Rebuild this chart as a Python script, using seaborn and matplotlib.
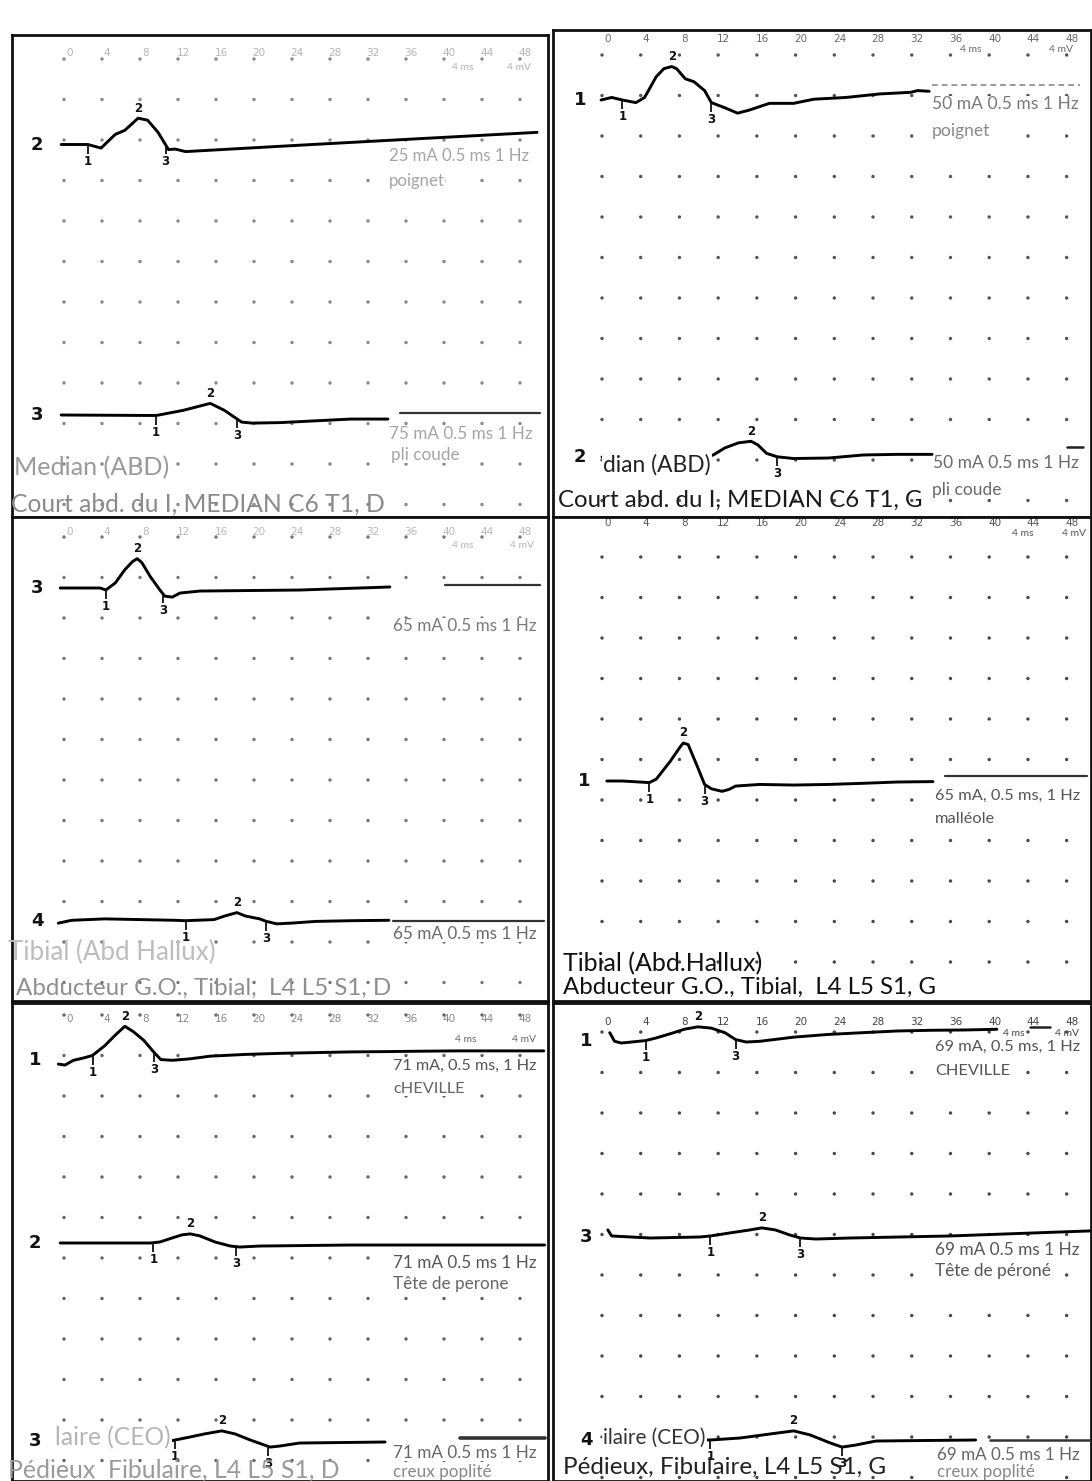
import numpy as np
import pandas as pd
import matplotlib
matplotlib.use("Agg")
import matplotlib.pyplot as plt
import seaborn as sns

# ---------------------------------------------------------------- data
MS_TICKS = [0, 4, 8, 12, 16, 20, 24, 28, 32, 36, 40, 44, 48]

# Panel A : Court abd. du I, MEDIAN C6 T1, D
A2_MS = [-0.3, 2.5, 3.9, 5.4, 6.4, 7.8, 8.8, 9.9, 11.0, 11.7, 12.8, 24.8, 37.5, 49.8]
A2_MV = [0.0, 0.0, -0.35, 1.0, 1.4, 2.6, 2.4, 1.2, -0.5, -0.45, -0.7, -0.07, 0.58, 1.2]
A2_MARKS = [2.5, 7.8, 10.7]
A3_MS = [-0.3, 9.7, 12.5, 15.4, 16.9, 18.7, 19.8, 22.8, 30.2, 34.1]
A3_MV = [0.0, -0.05, 0.45, 1.15, 0.45, -0.7, -0.8, -0.75, -0.4, -0.4]
A3_MARKS = [9.7, 15.4, 18.2]

# Panel B : Court abd. du I, MEDIAN C6 T1, G
B1_MS = [-0.1, 1.0, 2.1, 3.5, 4.4, 5.6, 6.4, 7.2, 7.7, 8.6, 9.5, 10.6, 11.3, 12.7,
         14.0, 15.2, 17.3, 19.8, 21.9, 25.2, 28.7, 31.9, 32.6, 33.8]
B1_MV = [0.0, 0.25, 0.0, -0.26, 0.25, 2.3, 3.1, 3.3, 3.1, 2.1, 1.8, 0.93, -0.26, -0.77,
         -1.3, -1.0, -0.33, -0.33, 0.08, 0.25, 0.6, 0.76, 0.93, 0.86]
B1_MARKS = [2.1, 7.2, 11.3]
B2_MS = [0.0, 10.7, 11.5, 12.7, 14.1, 15.4, 16.1, 17.0, 18.1, 19.8, 23.4, 27.0, 30.5, 34.1]
B2_MV = [0.0, 0.0, 0.2, 0.9, 1.4, 1.55, 1.2, 0.36, 0.02, -0.15, -0.1, 0.2, 0.26, 0.26]
B2_MARKS = [10.7, 15.4, 18.1]

# Panel C : Abducteur G.O., Tibial, D
C3_MS = [-0.4, 3.8, 4.4, 5.4, 6.4, 7.2, 7.7, 8.2, 9.1, 10.1, 10.6, 11.4, 12.2, 14.3, 24.8, 34.3]
C3_MV = [0.0, 0.0, -0.2, 0.5, 1.8, 2.6, 2.9, 2.5, 1.1, -0.2, -0.8, -0.9, -0.5, -0.3, -0.2, 0.1]
C3_MARKS = [4.4, 7.7, 10.4]
C4_MS = [-0.6, 0.8, 4.3, 8.0, 11.7, 12.8, 15.8, 16.9, 18.2, 19.1, 20.6, 21.3, 22.4,
         23.9, 26.5, 30.2, 34.2]
C4_MV = [-0.26, 0.02, 0.16, 0.09, 0.02, -0.02, 0.09, 0.44, 0.78, 0.44, 0.16, -0.09, -0.33,
         -0.26, -0.09, -0.02, 0.02]
C4_MARKS = [12.8, 18.2, 21.3]

# Panel D : Abducteur G.O., Tibial, G
D1_MS = [0.5, 2.1, 3.9, 4.9, 5.6, 7.0, 8.1, 8.4, 8.9, 9.8, 10.6, 11.3, 12.4, 13.1, 13.8,
         16.3, 19.8, 23.4, 26.9, 30.5, 34.2]
D1_MV = [0.0, 0.0, -0.1, -0.16, 0.18, 1.88, 3.4, 3.75, 3.6, 1.55, -0.34, -0.77, -1.02,
         -0.84, -0.5, -0.34, -0.4, -0.34, -0.23, -0.1, -0.06]
D1_MARKS = [4.9, 8.4, 10.6]

# Panel E : Pédieux, Fibulaire, D
E1_MS = [-0.6, 0.1, 1.0, 2.1, 3.0, 4.3, 5.4, 6.4, 7.3, 8.4, 9.5, 10.2, 11.4, 13.2, 15.4,
         19.1, 22.8, 26.5, 30.2, 33.9, 37.6, 41.3, 45.0, 50.5]
E1_MV = [-0.4, -0.5, -0.03, 0.21, 0.45, 1.42, 2.46, 3.33, 2.8, 1.94, 0.73, 0.04, -0.03,
         0.11, 0.38, 0.55, 0.66, 0.73, 0.8, 0.83, 0.87, 0.9, 0.9, 0.9]
E1_MARKS = [3.0, 6.4, 9.5]
E2_MS = [-0.4, 9.1, 10.1, 11.4, 12.4, 13.3, 14.3, 15.9, 17.5, 18.5, 20.6, 30.1, 50.6]
E2_MV = [0.0, 0.0, 0.1, 0.5, 0.8, 0.9, 0.7, 0.1, -0.3, -0.4, -0.3, -0.2, -0.2]
E2_MARKS = [9.4, 13.3, 18.1]
E3_MS = [-0.4, 11.2, 11.7, 13.3, 14.8, 16.6, 18.0, 19.6, 20.8, 21.7, 22.7, 24.8, 33.8]
E3_MV = [0.0, 0.0, 0.1, 0.4, 0.7, 1.0, 0.7, 0.1, -0.3, -0.6, -0.5, -0.2, -0.1]
E3_MARKS = [11.7, 16.6, 21.5]

# Panel F : Pédieux, Fibulaire, G
F1_MS = [0.8, 1.3, 2.0, 4.5, 5.6, 7.4, 8.5, 9.9, 11.3, 12.7, 13.8, 14.9, 16.3, 19.8,
         23.4, 26.9, 30.5, 34.1, 37.6, 40.8]
F1_MV = [0.82, -0.03, -0.2, 0.04, 0.3, 0.82, 1.16, 1.4, 1.27, 0.82, 0.14, -0.1, -0.03,
         0.38, 0.65, 0.82, 0.99, 1.06, 1.09, 1.16]
F1_MARKS = [4.5, 9.9, 13.8]
F3_MS = [0.6, 1.0, 5.0, 10.1, 11.2, 13.2, 15.3, 16.5, 17.9, 19.4, 20.5, 22.1, 25.6, 35.9, 50.4]
F3_MV = [0.7, 0.1, -0.1, 0.0, 0.1, 0.4, 0.7, 0.9, 0.7, 0.2, -0.1, -0.2, -0.1, 0.1, 0.6]
F3_MARKS = [11.2, 16.5, 20.5]
F4_MS = [0.6, 10.5, 11.2, 14.3, 17.4, 19.8, 21.5, 23.6, 24.8, 26.2, 28.3, 38.6]
F4_MV = [0.0, 0.0, 0.0, 0.2, 0.6, 0.9, 0.5, -0.3, -0.7, -0.5, -0.1, 0.0]
F4_MARKS = [11.2, 19.8, 24.8]

# ---------------------------------------------------------------- layout
W, H = 1092, 1481
ROW_PX = 40.5            # one grid division (4 mV) in pixels
K = 4.0 / ROW_PX         # mV per pixel

sns.set_theme(style="white")
plt.rcParams['font.family'] = ['Lato', 'DejaVu Sans']

fig = plt.figure(figsize=(W / 100, H / 100), dpi=100)
fig.patch.set_facecolor('white')
renderer = fig.canvas.get_renderer()
_last = {'size': 9}


def ftext(x, y, s, size, color, width=None, bg=False):
    if size is None:
        size = _last['size']
    t = fig.text(x / W, 1 - y / H, s, fontsize=size, color=color, ha='left',
                 va='center', zorder=6)
    if width:
        bb = t.get_window_extent(renderer)
        size = size * width / bb.width
        t.set_fontsize(size)
        _last['size'] = size
    if bg == 'full':
        t.set_bbox(dict(facecolor='white', edgecolor='none', pad=1.0))
    elif bg:
        t.set_bbox(dict(facecolor='white', edgecolor='none', pad=0.2))
    return t


PANELS = [
    dict(rect=(12, 35, 548, 517), ox=64, sx=9.5, row0=59, nrows=12, label_y=53,
         dot='#8a8a8a', lab='#b5b5b5', chx=37,
         traces=[('2', 144.5, A2_MS, A2_MV, A2_MARKS, None),
                 ('3', 415, A3_MS, A3_MV, A3_MARKS, (35.4, 50.1, 413, '#333333', 1.6, '-'))],
         texts=[(452, 67, '4 ms', 7.5, '#b0b0b0', None, False),
                (507, 67, '4 mV', 7.5, '#b0b0b0', None, False),
                (389, 156, '25 mA 0.5 ms 1 Hz', 9, '#a5a5a5', 141, True),
                (389, 181, 'poignet', None, '#a5a5a5', None, True),
                (389, 434, '75 mA 0.5 ms 1 Hz', 9, '#a5a5a5', 144, True),
                (391, 455, 'pli coude', None, '#a5a5a5', None, True),
                (14, 468, 'Median (ABD)', 13, '#9a9a9a', 154, False),
                (11, 504, 'Court abd. du I, MEDIAN C6 T1, D', 13, '#8a8a8a', 372, False)]),
    dict(rect=(553, 30, 1091, 517), ox=602, sx=9.68, row0=55, nrows=12, label_y=39,
         dot='#555555', lab='#6a6a6a', chx=580,
         traces=[('1', 100, B1_MS, B1_MV, B1_MARKS, (34.1, 49.4, 85, '#9a9a9a', 1.4, (0, (3, 2)))),
                 ('2', 457, B2_MS, B2_MV, B2_MARKS, (48.0, 49.7, 447, '#222222', 1.8, '-'))],
         texts=[(960, 49, '4 ms', 7.5, '#666666', None, False),
                (1049, 49, '4 mV', 7.5, '#666666', None, False),
                (932, 104, '50 mA 0.5 ms 1 Hz', 9, '#7a7a7a', 148, True),
                (932, 131, 'poignet', None, '#8a8a8a', None, True),
                (933, 463, '50 mA 0.5 ms 1 Hz', 9, '#6a6a6a', 146, True),
                (932, 490, 'pli coude', None, '#6a6a6a', None, True),
                (603, 465, 'dian (ABD)', 13, '#222222', 107, 'full'),
                (558, 500, 'Court abd. du I, MEDIAN C6 T1, G', 13, '#1a1a1a', 362, False)]),
    dict(rect=(12, 517, 548, 1001), ox=64, sx=9.5, row0=537, nrows=12, label_y=532,
         dot='#777777', lab='#b8b8b8', chx=37,
         traces=[('3', 588, C3_MS, C3_MV, C3_MARKS, (40.1, 50.1, 585, '#333333', 1.6, '-')),
                 ('4', 920.5, C4_MS, C4_MV, C4_MARKS, (34.6, 50.5, 921, '#333333', 1.6, '-'))],
         texts=[(452, 546, '4 ms', 7.5, '#b5b5b5', None, False),
                (510, 546, '4 mV', 7.5, '#b5b5b5', None, False),
                (393, 626, '65 mA 0.5 ms 1 Hz', 9, '#7a7a7a', 144, True),
                (393, 934, '65 mA 0.5 ms 1 Hz', 9, '#6a6a6a', 144, True),
                (8, 952, 'Tibial (Abd Hallux)', 13, '#bdbdbd', 207, False),
                (16, 988, 'Abducteur G.O., Tibial,  L4 L5 S1, D', 13, '#8f8f8f', 375, False)]),
    dict(rect=(553, 517, 1091, 1001), ox=602, sx=9.68, row0=557, nrows=11, label_y=523,
         dot='#4a4a4a', lab='#555555', chx=584,
         traces=[('1', 781, D1_MS, D1_MV, D1_MARKS, (35.4, 50.1, 776, '#333333', 1.6, '-'))],
         texts=[(1012, 534, '4 ms', 7.5, '#555555', None, False),
                (1062, 534, '4 mV', 7.5, '#555555', None, False),
                (935, 796, '65 mA, 0.5 ms, 1 Hz', 9, '#555555', 145, True),
                (935, 819, 'malléole', None, '#555555', None, True),
                (563, 964, 'Tibial (Abd.Hallux)', 13, '#111111', 199, False),
                (563, 987, 'Abducteur G.O., Tibial,  L4 L5 S1, G', 13, '#111111', 372, False)]),
    dict(rect=(12, 1003, 548, 1481), ox=64, sx=9.5, row0=1015, nrows=12, label_y=1019,
         dot='#666666', lab='#8a8a8a', chx=35,
         traces=[('1', 1060, E1_MS, E1_MV, E1_MARKS, None),
                 ('2', 1243, E2_MS, E2_MV, E2_MARKS, None),
                 ('3', 1441, E3_MS, E3_MV, E3_MARKS, (41.7, 50.6, 1438, '#333333', 2.6, '-'))],
         texts=[(455, 1040, '4 ms', 7.5, '#666666', None, False),
                (512, 1040, '4 mV', 7.5, '#666666', None, False),
                (393, 1066, '71 mA, 0.5 ms, 1 Hz', 9, '#555555', 144, True),
                (393, 1089, 'cHEVILLE', None, '#666666', None, True),
                (393, 1263, '71 mA 0.5 ms 1 Hz', 9, '#555555', 144, True),
                (393, 1284, 'Tête de perone', None, '#666666', None, True),
                (393, 1453, '71 mA 0.5 ms 1 Hz', 9, '#666666', 144, True),
                (393, 1472, 'creux poplité', None, '#888888', None, True),
                (55, 1438, 'laire (CEO)', 12, '#b5b5b5', 115, 'full'),
                (8, 1470, 'Pédieux  Fibulaire, L4 L5 S1, D', 13, '#9a9a9a', 330, False)]),
    dict(rect=(553, 1003, 1091, 1481), ox=602, sx=9.68, row0=1032, nrows=12, label_y=1022,
         dot='#4a4a4a', lab='#444444', chx=586,
         traces=[('1', 1041, F1_MS, F1_MV, F1_MARKS, (44.2, 46.3, 1027, '#222222', 1.8, '-')),
                 ('3', 1237, F3_MS, F3_MV, F3_MARKS, None),
                 ('4', 1440, F4_MS, F4_MV, F4_MARKS, (40.1, 50.4, 1440, '#333333', 1.8, '-'))],
         texts=[(1003, 1034, '4 ms', 7.5, '#444444', None, False),
                (1055, 1034, '4 mV', 7.5, '#444444', None, False),
                (935, 1047, '69 mA, 0.5 ms, 1 Hz', 9, '#555555', 145, True),
                (935, 1071, 'CHEVILLE', None, '#555555', None, True),
                (935, 1250, '69 mA 0.5 ms 1 Hz', 9, '#555555', 145, True),
                (935, 1271, 'Tête de péroné', None, '#555555', None, True),
                (937, 1455, '69 mA 0.5 ms 1 Hz', 9, '#666666', 143, True),
                (937, 1472, 'creux poplité', None, '#888888', None, True),
                (603, 1438, 'ilaire (CEO)', 12, '#333333', 102, 'full'),
                (563, 1467, 'Pédieux, Fibulaire, L4 L5 S1, G', 13, '#222222', 322, False)]),
]

for P in PANELS:
    x0, y0, x1, y1 = P['rect']
    ox, sx, row0 = P['ox'], P['sx'], P['row0']
    ax = fig.add_axes([x0 / W, 1 - y1 / H, (x1 - x0) / W, (y1 - y0) / H])
    ax.set_xlim((x0 - ox) / sx, (x1 - ox) / sx)
    ax.set_ylim((row0 - y1) * K, (row0 - y0) * K)
    ax.set_facecolor('white')
    ax.set_xticks([])
    ax.set_yticks([])
    for sp in ax.spines.values():
        sp.set_visible(True)
        sp.set_color('#111111')
        sp.set_linewidth(2.0)

    # grid of dots (every 4 ms, every 4 mV)
    grid = pd.DataFrame([(t, -4.0 * k) for k in range(P['nrows']) for t in MS_TICKS],
                        columns=['ms', 'mv'])
    sns.scatterplot(data=grid, x='ms', y='mv', ax=ax, s=6, color=P['dot'],
                    edgecolor='none', linewidth=0, legend=False, zorder=1)

    # time tick labels
    ylab = (row0 - P['label_y']) * K
    for t in MS_TICKS:
        ax.text(t + 0.55, ylab, str(t), ha='center', va='center', fontsize=7.5,
                color=P['lab'], family='DejaVu Sans', zorder=2)

    for ch, base, ms, mv, marks, sep in P['traces']:
        off = (row0 - base) * K
        yv = np.asarray(mv, float) + off
        sns.lineplot(x=ms, y=yv, ax=ax, color='black', linewidth=2.1, sort=False,
                     estimator=None, zorder=4)
        ax.text((P['chx'] - ox) / sx, off, ch, ha='center', va='center', fontsize=13,
                fontweight='bold', color='#111111', family='DejaVu Sans', zorder=5)
        for i, t in enumerate(marks):
            ym = float(np.interp(t, ms, mv)) + off
            if i == 1:
                ax.text(t, ym + 0.35, '2', ha='center', va='bottom', fontsize=8.5,
                        fontweight='bold', color='#111111', family='DejaVu Sans', zorder=5)
            else:
                ax.vlines(t, ym - 0.9, ym, color='#111111', linewidth=1.3, zorder=5)
                ax.text(t, ym - 1.0, str(i + 1), ha='center', va='top', fontsize=8.5,
                        fontweight='bold', color='#111111', family='DejaVu Sans', zorder=5)
        if sep is not None:
            a, b, py, col, lw, ls = sep
            ys = (row0 - py) * K
            ax.plot([a, b], [ys, ys], color=col, linewidth=lw, linestyle=ls, zorder=3)
    ax.set_xlabel('')
    ax.set_ylabel('')

    for (tx, ty, s, size, col, width, bg) in P['texts']:
        ftext(tx, ty, s, size, col, width=width, bg=bg)

fig.savefig('out.png', dpi=100)
